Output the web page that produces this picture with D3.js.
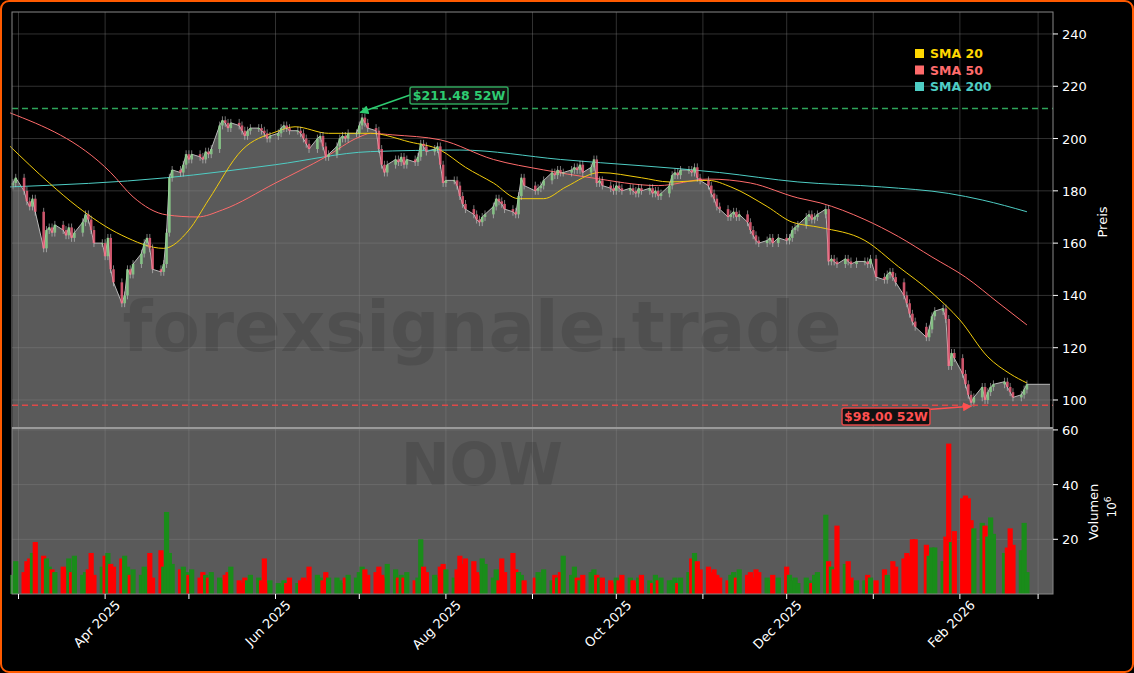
<!DOCTYPE html>
<html><head><meta charset="utf-8">
<script src="https://cdn.jsdelivr.net/npm/d3@7"></script>
<style>body{margin:0;background:#000;}svg{display:block;font-family:"DejaVu Sans",sans-serif;}</style>
</head><body><svg id="c" width="1134" height="673"></svg>
<script>
// ---- data ----
const startDate = "2025-02-27";
const holidays = ["2025-09-01","2025-11-27","2025-12-25","2026-01-01","2026-01-19","2026-02-16"];
const closes = [
183,185,
180,176,174,177,172,
158,165,166,164,167,
165,163,166,162,164,
168,171,169,165,160,
160,155,162,150,145,
137,140,150,148,152,
156,160,162,158,150,
149,152,164,185,188,
187,190,194,192,194,
193,192,195,194,196,
205,207,206,204,206,
205,203,201,203,204,
204,203,202,200,201,
202,204,205,204,203,
203,202,200,198,196,
200,201,197,193,194,
197,200,201,200,202,
202,205,208,206,204,
203,196,190,187,190,
192,191,193,190,192,
191,193,198,197,195,
196,197,190,183,184,
184,182,178,175,173,
171,169,168,170,171,
174,177,176,175,173,
172,171,178,185,182,
180,181,182,184,
187,186,188,187,187,
188,189,188,190,187,
189,192,183,184,182,
181,180,182,181,180,
181,180,179,181,180,
181,179,180,178,179,
182,186,187,186,188,
188,187,189,185,184,
182,179,177,174,173,
170,171,172,170,171,
168,165,163,161,160,
161,162,160,162,
161,162,165,166,167,
170,171,169,170,171,
173,153,154,153,152,
154,153,152,153,
153,152,154,147,
146,148,149,147,145,
140,137,133,130,128,
124,127,132,134,
135,131,113,118,116,
110,106,102,99,101,
105,100,103,105,106,
107,105,103,101,
102,104,106
];
const volumes = [
7,12,
8,12,13,15,19,
14,13,10,9,8,
10,9,13,8,14,
7,8,9,15,7,
10,14,15,11,10,
13,14,10,7,9,
7,10,9,15,6,
16,10,30,15,11,
9,10,8,7,9,
6,8,7,6,8,
6,5,7,8,10,
5,4,6,5,7,
6,5,13,4,5,
4,3,5,4,6,
4,5,6,5,10,
7,6,5,8,6,
6,5,4,6,7,
6,8,10,9,7,
8,10,7,6,11,
9,6,7,6,8,
5,6,20,10,8,
7,6,10,11,9,
6,9,14,11,13,
12,8,7,13,11,
6,9,5,13,8,
15,9,8,7,5,
6,8,6,9,
5,7,6,8,14,
7,10,6,5,7,
8,9,7,6,6,
5,4,6,5,7,
6,5,4,6,7,
5,4,7,5,6,
5,5,6,4,6,
8,13,15,12,9,
10,8,9,7,6,
5,7,8,6,9,
7,8,6,9,8,
6,5,7,6,
10,7,5,6,4,
6,5,4,7,8,
29,12,10,9,25,
11,12,6,5,
5,7,6,5,
9,7,6,12,10,
13,15,14,20,20,
18,14,17,17,
12,21,55,19,23,
35,36,35,27,24,
26,25,21,28,22,
15,17,24,18,
16,26,8
];
const sma20 = [["2025-02-26",197],["2025-03-12",183],["2025-03-22",174],["2025-04-07",163],["2025-04-22",158],["2025-05-01",165],["2025-05-08",176.5],["2025-05-20",195.6],["2025-06-01",202.5],["2025-06-08",204.5],["2025-06-20",202],["2025-07-05",202],["2025-07-19",198.7],["2025-07-30",195.6],["2025-08-08",189],["2025-08-18",183],["2025-08-27",177],["2025-09-05",177],["2025-09-13",181.5],["2025-09-25",187],["2025-10-10",185],["2025-10-20",183.4],["2025-11-03",184],["2025-11-11",181.5],["2025-11-24",174],["2025-12-03",168],["2025-12-13",166],["2025-12-29",161],["2026-01-10",151],["2026-01-22",141],["2026-02-01",130.6],["2026-02-11",116.5],["2026-02-19",110],["2026-02-25",106.5]];
const sma50 = [["2025-02-26",209.8],["2025-04-03",187],["2025-04-11",177.7],["2025-04-23",170.8],["2025-05-04",170],["2025-05-13",172.7],["2025-06-01",183],["2025-06-19",193],["2025-07-01",200.6],["2025-07-05",202],["2025-07-13",201.4],["2025-07-30",199.5],["2025-08-18",192],["2025-09-05",188],["2025-09-22",185],["2025-10-16",182],["2025-11-03",184.5],["2025-11-18",183],["2025-12-05",177.3],["2025-12-13",175.4],["2025-12-29",169],["2026-01-10",162.5],["2026-01-22",154.7],["2026-02-03",147],["2026-02-15",137],["2026-02-25",128.7]];
const sma200 = [["2025-02-26",181.5],["2025-04-23",185],["2025-06-01",190],["2025-07-05",195],["2025-08-06",195.6],["2025-09-11",192],["2025-11-07",187],["2025-12-05",183.4],["2026-01-04",181.5],["2026-01-28",179],["2026-02-09",176.5],["2026-02-25",172]];
const priceTicks = [100,120,140,160,180,200,220,240];
const volTicks = [20,40,60];
const high52 = 211.48, low52 = 98.00;
const high52Label = "$211.48 52W", low52Label = "$98.00 52W";
const high52Date = "2025-07-01", low52Date = "2026-02-05";

// ---- build dates ----
const parse = d3.utcParse("%Y-%m-%d"), fmt = d3.utcFormat("%Y-%m-%d");
const dates = [];
for (let d = parse(startDate); dates.length < closes.length; d = d3.utcDay.offset(d, 1)) {
  const wd = d.getUTCDay();
  if (wd === 0 || wd === 6 || holidays.includes(fmt(d))) continue;
  dates.push(new Date(d));
}
const data = dates.map((d, i) => {
  const c = closes[i], o = i ? closes[i - 1] : closes[0] - 1;
  return {d, o, c, h: Math.max(o, c) + 1.5, l: Math.min(o, c) - 1.5, v: volumes[i]};
});

const svg = d3.select("#c");
const L = 12, R = 1053, PT = 12, PB = 428, VB = 594;
const x = d3.scaleUtc().domain([new Date(Date.UTC(2025,1,26,16)), new Date(Date.UTC(2026,2,6,8))]).range([L, R]);
const y = d3.scaleLinear().domain([89.29, 248.4]).range([PB, PT]);
const yv = d3.scaleLinear().domain([0, 60.7]).range([VB, PB]);

svg.append("rect").attr("x",1).attr("y",1).attr("width",1132).attr("height",671).attr("rx",8).attr("fill","#000").attr("stroke","#ff5a00").attr("stroke-width",2);
svg.append("rect").attr("x",L).attr("y",PB).attr("width",R-L).attr("height",VB-PB).attr("fill","#5a5a5a");

// area under close
const lastD = data[data.length-1];
const areaData = data.concat([{d: x.invert(1050), c: lastD.c}]);
svg.append("path").datum(areaData).attr("fill","#5a5a5a")
  .attr("d", d3.area().x(d=>x(d.d)).y0(PB).y1(d=>y(d.c)));

// grid
const months = d3.utcMonth.range(new Date(Date.UTC(2025,2,1)), new Date(Date.UTC(2026,2,2)));
const g = svg.append("g").attr("stroke","#888").attr("stroke-opacity",0.45).attr("stroke-width",0.8);
months.forEach(m => g.append("line").attr("x1",x(m)).attr("x2",x(m)).attr("y1",PT).attr("y2",VB));
priceTicks.forEach(t => g.append("line").attr("x1",L).attr("x2",R).attr("y1",y(t)).attr("y2",y(t)));
volTicks.forEach(t => g.append("line").attr("x1",L).attr("x2",R).attr("y1",yv(t)).attr("y2",yv(t)));

// watermark
svg.append("text").attr("x",482).attr("y",351).attr("text-anchor","middle").attr("font-size",69).attr("font-weight","bold").attr("fill","#000").attr("fill-opacity",0.12).text("forexsignale.trade");
svg.append("text").attr("x",482).attr("y",485).attr("text-anchor","middle").attr("font-size",58).attr("font-weight","bold").attr("fill","#000").attr("fill-opacity",0.12).text("NOW");

// close line
svg.append("path").datum(areaData).attr("fill","none").attr("stroke","#b8b8b8").attr("stroke-width",1)
  .attr("d", d3.line().x(d=>x(d.d)).y(d=>y(d.c)));

// volume
svg.append("g").selectAll("rect").data(data).join("rect")
  .attr("x", d=>x(d.d)-2.6).attr("width",5.2).attr("y", d=>yv(d.v)).attr("height", d=>VB-yv(d.v))
  .attr("fill", d=>d.c>=d.o?"#1a8c1a":"#ff0000");

// SMA lines
const sl = d3.line().x(d=>x(parse(d[0]))).y(d=>y(d[1])).curve(d3.curveMonotoneX);
[[sma200,"#4ecdc4"],[sma50,"#ff6b6b"],[sma20,"#f2cc0c"]].forEach(([s,c]) =>
  svg.append("path").datum(s).attr("fill","none").attr("stroke",c).attr("stroke-width",1).attr("d",sl));

// candles
const cg = svg.append("g").attr("opacity",0.8).selectAll("g").data(data).join("g");
cg.append("line").attr("x1",d=>x(d.d)).attr("x2",d=>x(d.d)).attr("y1",d=>y(d.h)).attr("y2",d=>y(d.l)).attr("stroke","#d8d8d8").attr("stroke-width",0.7);
cg.append("rect").attr("x",d=>x(d.d)-1.3).attr("width",2.6)
  .attr("y",d=>y(Math.max(d.o,d.c))).attr("height",d=>Math.max(1,Math.abs(y(d.o)-y(d.c))))
  .attr("fill",d=>d.c>=d.o?"#8fd98f":"#ff6b86");

// 52W lines
svg.append("line").attr("x1",L).attr("x2",R).attr("y1",y(high52)).attr("y2",y(high52)).attr("stroke","#2ea35a").attr("stroke-width",1.5).attr("stroke-dasharray","6,4");
svg.append("line").attr("x1",L).attr("x2",R).attr("y1",y(low52)).attr("y2",y(low52)).attr("stroke","#e04848").attr("stroke-width",1.5).attr("stroke-dasharray","6,4");
const defs = svg.append("defs");
[["ag","#2ecc71"],["ar","#ff5050"]].forEach(([id,c]) => defs.append("marker").attr("id",id).attr("viewBox","0 0 10 10").attr("refX",9).attr("refY",5).attr("markerWidth",6).attr("markerHeight",6).attr("orient","auto").append("path").attr("d","M0,0L10,5L0,10z").attr("fill",c));
function label(txt, bx, by, w, c, border, tx, ty, m) {
  svg.append("line").attr("x1",bx).attr("y1",by+8).attr("x2",tx).attr("y2",ty).attr("stroke",c).attr("stroke-width",1.5).attr("marker-end",`url(#${m})`);
  svg.append("rect").attr("x",bx).attr("y",by).attr("width",w).attr("height",17).attr("rx",2).attr("fill","#111").attr("stroke",border).attr("stroke-width",1.5);
  svg.append("text").attr("x",bx+w/2).attr("y",by+13).attr("text-anchor","middle").attr("font-size",12.5).attr("font-weight","bold").attr("fill",c).text(txt);
}
label(high52Label, 410, 87, 98, "#2ecc71", "#2ea35a", x(parse(high52Date))+1, y(high52)+4, "ag");
label(low52Label, 842, 408, 88, "#ff5050", "#e04848", x(parse(low52Date)), y(low52)+1, "ar");

// frame
svg.append("rect").attr("x",L).attr("y",PT).attr("width",R-L).attr("height",VB-PT).attr("fill","none").attr("stroke","#888").attr("stroke-width",1);
svg.append("line").attr("x1",L).attr("x2",R).attr("y1",PB).attr("y2",PB).attr("stroke","#9a9a9a").attr("stroke-width",2);

// axes
const ax = svg.append("g").attr("fill","#fff").attr("font-size",13);
priceTicks.forEach(t => {
  svg.append("line").attr("x1",R).attr("x2",R+5).attr("y1",y(t)).attr("y2",y(t)).attr("stroke","#fff");
  ax.append("text").attr("x",R+9).attr("y",y(t)+5).text(t);
});
volTicks.forEach(t => {
  svg.append("line").attr("x1",R).attr("x2",R+5).attr("y1",yv(t)).attr("y2",yv(t)).attr("stroke","#fff");
  ax.append("text").attr("x",R+9).attr("y",yv(t)+5).text(t);
});
ax.append("text").attr("transform","translate(1107,222) rotate(-90)").attr("text-anchor","middle").text("Preis");
ax.append("text").attr("transform","translate(1098,512) rotate(-90)").attr("text-anchor","middle").text("Volumen");
ax.append("text").attr("transform","translate(1116,507) rotate(-90)").attr("text-anchor","middle").attr("font-size",12).html('10<tspan dy="-5" font-size="9">6</tspan>');
const mfmt = d3.utcFormat("%b %Y");
months.forEach((m,i) => {
  svg.append("line").attr("x1",x(m)).attr("x2",x(m)).attr("y1",VB).attr("y2",VB+5).attr("stroke","#fff");
  if (m.getUTCMonth() % 2 === 1) ax.append("text").attr("text-anchor","end")
    .attr("transform",`translate(${x(m)+16},${VB+12}) rotate(-45)`).text(mfmt(m));
});

// legend
[["SMA 20","#ffd700"],["SMA 50","#ff6b6b"],["SMA 200","#4ecdc4"]].forEach(([t,c],i) => {
  svg.append("rect").attr("x",915).attr("y",49+i*16.5).attr("width",9).attr("height",9).attr("fill",c);
  svg.append("text").attr("x",930).attr("y",58+i*16.5).attr("font-size",12.5).attr("font-weight","bold").attr("fill",c).text(t);
});
</script></body></html>
